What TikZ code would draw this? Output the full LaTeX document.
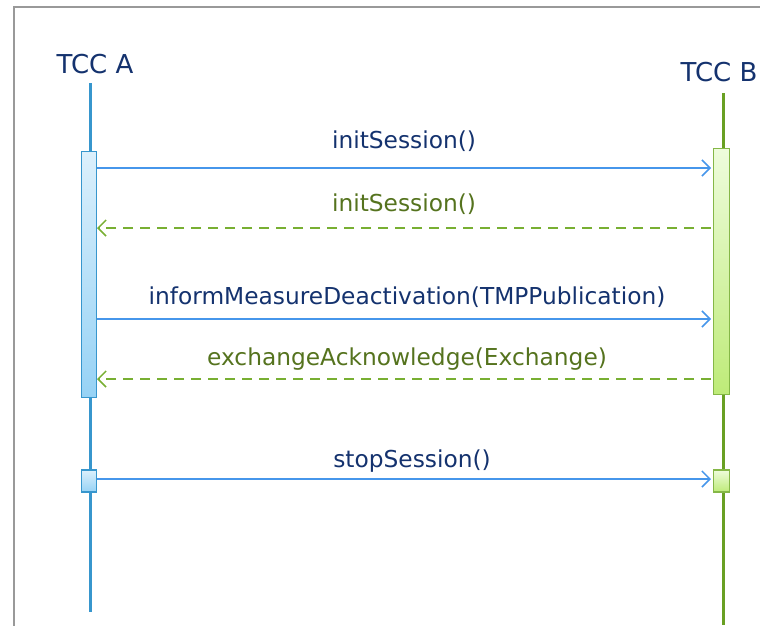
\documentclass[tikz,border=0pt]{standalone}
\usepackage{fontspec}
\setmainfont{DejaVu Sans}
\usetikzlibrary{arrows.meta}
\definecolor{navy}{RGB}{20,50,110}
\definecolor{gtext}{RGB}{85,115,30}
\definecolor{lblue}{RGB}{55,150,205}
\definecolor{ablue}{RGB}{70,150,235}
\definecolor{lgreen}{RGB}{105,160,35}
\definecolor{agreen}{RGB}{120,175,50}
\definecolor{bfillt}{RGB}{220,240,252}
\definecolor{bfillb}{RGB}{150,210,245}
\definecolor{gfillt}{RGB}{238,252,220}
\definecolor{gfillb}{RGB}{190,235,120}
\tikzset{
  x=1pt,y=-1pt,
  lifeA/.style={draw=lblue,line width=3pt},
  lifeB/.style={draw=lgreen,line width=3pt},
  actA/.style={draw=lblue,line width=1.6pt,top color=bfillt,bottom color=bfillb},
  actB/.style={draw=agreen!90!white,line width=1.6pt,top color=gfillt,bottom color=gfillb},
  callmsg/.style={draw=ablue,line width=1.5pt,-{Straight Barb[length=8pt,width=16pt,line width=1.5pt]}},
  retmsg/.style={draw=agreen,line width=1.8pt,dash pattern=on 10pt off 7pt,-{Straight Barb[length=8pt,width=16pt,line width=1.5pt]}},
  calllbl/.style={text=navy,font=\fontsize{23.3}{25}\selectfont,inner sep=0pt,anchor=base},
  retlbl/.style={text=gtext,font=\fontsize{23.3}{25}\selectfont,inner sep=0pt,anchor=base},
  head/.style={text=navy,font=\fontsize{26}{28}\selectfont,inner sep=0pt,anchor=base}
}
\begin{document}
\begin{tikzpicture}
\useasboundingbox (0,0) rectangle (760,625);
\begin{scope}
\clip (0,0) rectangle (760,625);
\draw[gray!80,line width=1.2pt] (14,7) rectangle (800,700);
\end{scope}
% headers
\node[head] (hA) at (95,73) {TCC A};
\node[head] (hB) at (719,81) {TCC B};
% lifelines
\coordinate (a0) at (90,83);
\coordinate (a1) at (90,612);
\coordinate (b0) at (723,93);
\coordinate (b1) at (723,625);
\draw[lifeA] (a0) -- (a1);
\draw[lifeB] (b0) -- (b1);
% activations
\node[actA,minimum width=15pt,minimum height=246pt,inner sep=0pt] (A1) at (89,274.5) {};
\node[actA,minimum width=15pt,minimum height=22pt,inner sep=0pt] (A2) at (89,481) {};
\node[actB,minimum width=16pt,minimum height=246pt,inner sep=0pt] (B1) at (721.5,271.5) {};
\node[actB,minimum width=16pt,minimum height=22pt,inner sep=0pt] (B2) at (721.5,481) {};
% messages
\coordinate (m1a) at (97,168); \coordinate (m1b) at (711,168);
\coordinate (m2a) at (97,228); \coordinate (m2b) at (711,228);
\coordinate (m3a) at (97,319); \coordinate (m3b) at (711,319);
\coordinate (m4a) at (97,379); \coordinate (m4b) at (711,379);
\coordinate (m5a) at (97,479); \coordinate (m5b) at (711,479);
\draw[callmsg] (m1a) -- (m1b);
\draw[retmsg] (m2b) -- (m2a);
\draw[callmsg] (m3a) -- (m3b);
\draw[retmsg] (m4b) -- (m4a);
\draw[callmsg] (m5a) -- (m5b);
\node[calllbl] (l1) at (404,148) {initSession()};
\node[retlbl] (l2) at (404,211) {initSession()};
\node[calllbl] (l3) at (407,304) {informMeasureDeactivation(TMPPublication)};
\node[retlbl] (l4) at (407,365) {exchangeAcknowledge(Exchange)};
\node[calllbl] (l5) at (412,467) {stopSession()};
\end{tikzpicture}
\end{document}
